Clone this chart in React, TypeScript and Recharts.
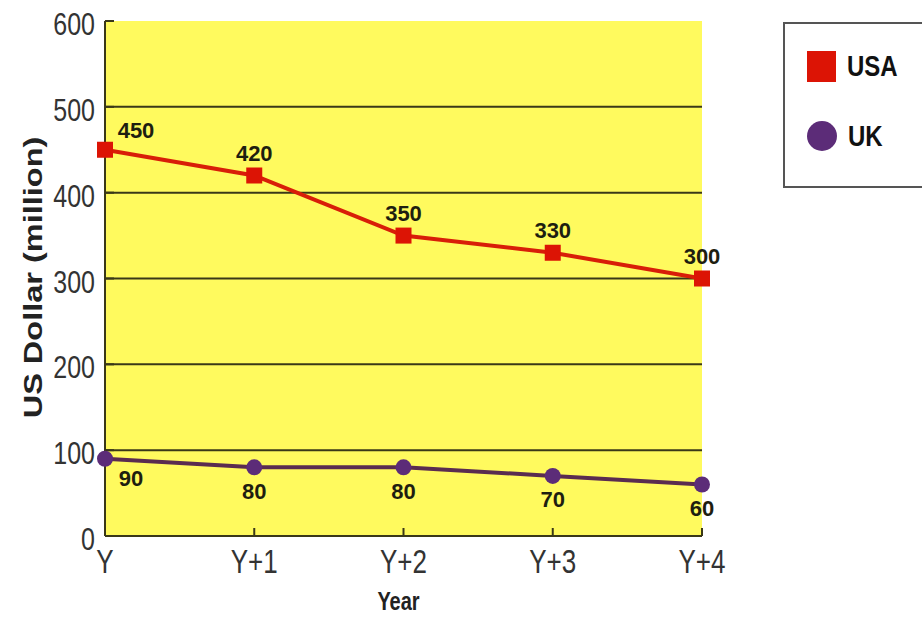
import React from 'react';
import {
  LineChart,
  Line,
  XAxis,
  YAxis,
  CartesianGrid,
  Legend,
  LabelList,
} from 'recharts';

const YEARS = ['Y', 'Y+1', 'Y+2', 'Y+3', 'Y+4'];
const USA = [450, 420, 350, 330, 300];
const UK = [90, 80, 80, 70, 60];
const Y_TICKS = [0, 100, 200, 300, 400, 500, 600];
const GRID_VALUES = [100, 200, 300, 400, 500];
const SERIES_ORDER = ['USA', 'UK'];

const data = YEARS.map((year, i) => ({ year, usa: USA[i], uk: UK[i] }));

const FONT = '"Liberation Sans", Arial, Helvetica, sans-serif';
const INK = '#3a3818';
const RED = '#dc1405';
const RED_LINE = '#d81e08';
const PURPLE = '#5c2c78';
const PURPLE_LINE = '#5a2c50';
const MARKER_COLOR: Record<string, string> = { USA: RED, UK: PURPLE };
// axis text is set tall and narrow
const STRETCH = 1.25;

const SquareDot = (props: any) => {
  const { cx, cy, index } = props;
  if (cx == null || cy == null) return null;
  return <rect key={`sq-${index}`} x={cx - 8} y={cy - 8} width={16} height={16} fill={RED} />;
};

const XTick = (props: any) => {
  const { x, y, payload } = props;
  const base = y + 23;
  return (
    <text
      transform={`translate(${x},${base}) scale(1,${STRETCH})`}
      textAnchor="middle"
      fontFamily={FONT}
      fontSize={26}
      fill="#333"
    >
      {payload.value}
    </text>
  );
};

const YTick = (props: any) => {
  const { x, y, payload } = props;
  return (
    <text
      transform={`translate(${x},${y + 14}) scale(1,${STRETCH})`}
      textAnchor="end"
      fontFamily={FONT}
      fontSize={25}
      fill="#333"
    >
      {payload.value}
    </text>
  );
};

const YTitle = (props: any) => {
  const { viewBox } = props;
  const cx = viewBox.x + 22;
  const cy = viewBox.y + viewBox.height / 2 - 1;
  return (
    <text
      transform={`translate(${cx},${cy}) scale(1,${STRETCH}) rotate(-90)`}
      textAnchor="middle"
      fontFamily={FONT}
      fontSize={26}
      fontWeight="bold"
      fill="#222"
    >
      US Dollar (million)
    </text>
  );
};

const XTitle = (props: any) => {
  const { viewBox } = props;
  const cx = viewBox.x + viewBox.width / 2 - 5;
  const base = viewBox.y + viewBox.height + 13;
  return (
    <text
      transform={`translate(${cx},${base}) scale(1,${STRETCH})`}
      textAnchor="middle"
      fontFamily={FONT}
      fontSize={20}
      fontWeight="bold"
      fill="#222"
    >
      Year
    </text>
  );
};

// value labels: above for USA, below for UK; first one nudged right off the axis
const makeLabel = (above: boolean) => (props: any) => {
  const { x, y, value, index } = props;
  const dx = index === 0 ? (above ? 31 : 26) : 0;
  const dy = above ? (index === 0 ? -19 : -22) : index === 0 ? 20 : 24;
  return (
    <text
      x={x + dx}
      y={y + dy}
      textAnchor="middle"
      dominantBaseline="central"
      fontFamily={FONT}
      fontWeight="bold"
      fontSize={22}
      fill="#1e1e10"
    >
      {value}
    </text>
  );
};

const LegendBox = (props: any) => {
  const payload = [...(props.payload || [])].sort(
    (a: any, b: any) => SERIES_ORDER.indexOf(a.value) - SERIES_ORDER.indexOf(b.value),
  );
  return (
    <div
      style={{
        width: 152,
        height: 166,
        boxSizing: 'border-box',
        border: '2px solid #555',
        background: '#fff',
        position: 'relative',
        fontFamily: FONT,
      }}
    >
      {payload.map((entry: any, i: number) => {
        const square = entry.type === 'square';
        return (
          <div
            key={entry.value}
            style={{
              position: 'absolute',
              left: 22,
              top: 26 + i * 70,
              display: 'flex',
              alignItems: 'center',
              height: 32,
            }}
          >
            <div
              style={{
                width: square ? 29 : 30,
                height: square ? 31 : 30,
                background: MARKER_COLOR[entry.value],
                borderRadius: square ? 0 : '50%',
              }}
            />
            <span
              style={{
                marginLeft: 11,
                fontWeight: 'bold',
                fontSize: 24,
                color: '#111',
                display: 'inline-block',
                transform: 'scaleY(1.2)',
              }}
            >
              {entry.value}
            </span>
          </div>
        );
      })}
    </div>
  );
};

export default function App() {
  return (
    <div style={{ position: 'absolute', left: 0, top: 0, width: 922, height: 617, background: '#fff' }}>
      <LineChart
        width={922}
        height={617}
        data={data}
        margin={{ top: 21, right: 220, bottom: 20, left: 20 }}
      >
        <CartesianGrid
          horizontal
          vertical={false}
          horizontalValues={GRID_VALUES}
          fill="#fffa5e"
          fillOpacity={1}
          stroke={INK}
          strokeWidth={2}
        />
        <XAxis
          dataKey="year"
          height={61}
          axisLine={{ stroke: INK, strokeWidth: 2 }}
          tickLine={{ stroke: INK, strokeWidth: 2 }}
          tickSize={-8}
          tickMargin={22}
          tick={<XTick />}
          interval={0}
          label={<XTitle />}
        />
        <YAxis
          domain={[0, 600]}
          ticks={Y_TICKS}
          width={85}
          axisLine={{ stroke: INK, strokeWidth: 2 }}
          tickLine={{ stroke: INK, strokeWidth: 2 }}
          tickSize={-9}
          tickMargin={19}
          tick={<YTick />}
          label={<YTitle />}
        />
        <Legend
          layout="vertical"
          align="center"
          verticalAlign="middle"
          wrapperStyle={{ top: 22, left: 783, width: 152 }}
          content={<LegendBox />}
        />
        <Line
          name="USA"
          dataKey="usa"
          stroke={RED_LINE}
          strokeWidth={4}
          dot={<SquareDot />}
          activeDot={false}
          legendType="square"
          isAnimationActive={false}
        >
          <LabelList dataKey="usa" content={makeLabel(true)} />
        </Line>
        <Line
          name="UK"
          dataKey="uk"
          stroke={PURPLE_LINE}
          strokeWidth={4}
          dot={{ r: 8, fill: PURPLE, stroke: 'none' }}
          activeDot={false}
          legendType="circle"
          isAnimationActive={false}
        >
          <LabelList dataKey="uk" content={makeLabel(false)} />
        </Line>
      </LineChart>
    </div>
  );
}
